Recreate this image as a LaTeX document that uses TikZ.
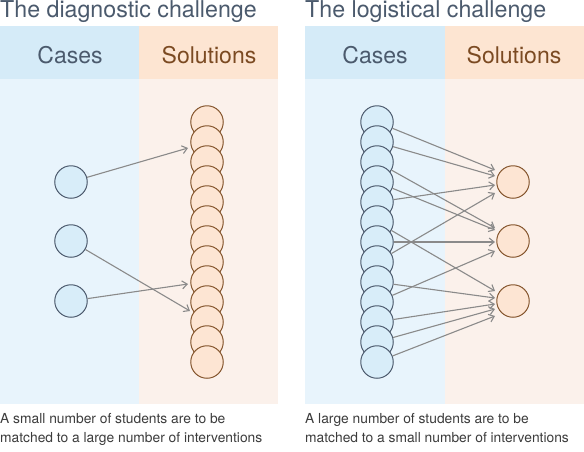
\documentclass[tikz,border=0pt]{standalone}
\usepackage{fontspec}
\setmainfont{TeX Gyre Heros}
\usetikzlibrary{arrows.meta,calc}
\definecolor{headblue}{HTML}{D5EBF8}
\definecolor{bodyblue}{HTML}{E8F4FC}
\definecolor{headpeach}{HTML}{FDE5D2}
\definecolor{bodypeach}{HTML}{FBF1EB}
\definecolor{casefill}{HTML}{D8EDF9}
\definecolor{caseline}{HTML}{4D5B6E}
\definecolor{solfill}{HTML}{FDE5D3}
\definecolor{solline}{HTML}{85562E}
\definecolor{linkgray}{HTML}{8A8A8A}
\definecolor{titlecol}{HTML}{4B5A6D}
\definecolor{solcol}{HTML}{7B4A22}
\definecolor{captcol}{HTML}{3C3C3C}
\begin{document}
\begin{tikzpicture}[x=1pt,y=-1pt,
  case/.style={circle,draw=caseline,fill=casefill,line width=1pt,minimum size=32.5pt,inner sep=0pt},
  sol/.style={circle,draw=solline,fill=solfill,line width=1pt,minimum size=32.5pt,inner sep=0pt},
  link/.style={draw=linkgray,line width=1.1pt,-{Straight Barb[length=5pt,width=8pt]}},
  ttl/.style={anchor=base west,inner sep=0pt,font=\fontsize{23.2}{27}\selectfont,text=titlecol},
  hdr/.style={anchor=base,inner sep=0pt,font=\fontsize{23}{27}\selectfont},
  capt/.style={anchor=base west,inner sep=0pt,font=\fontsize{13.8}{19}\selectfont,text=captcol,align=left}]
\useasboundingbox (0,0) rectangle (584,451);
\fill[white] (0,0) rectangle (584,451);
% panels
\fill[headblue] (0,26) rectangle (139,79);
\fill[headpeach] (139,26) rectangle (278,79);
\fill[bodyblue] (0,79) rectangle (139,404);
\fill[bodypeach] (139,79) rectangle (278,404);
\fill[headblue] (305,26) rectangle (445,79);
\fill[headpeach] (445,26) rectangle (584,79);
\fill[bodyblue] (305,79) rectangle (445,404);
\fill[bodypeach] (445,79) rectangle (584,404);
% titles
\node[ttl] (t1) at (0,17.5) {The diagnostic challenge};
\node[ttl] (t2) at (305,17.5) {The logistical challenge};
\node[hdr,text=titlecol] (h1) at (70,63) {Cases};
\node[hdr,text=solcol] (h2) at (209,63) {Solutions};
\node[hdr,text=titlecol] (h3) at (375,63) {Cases};
\node[hdr,text=solcol] (h4) at (514,63) {Solutions};
% left panel
\node[case] (ca1) at (71,182) {};
\node[case] (ca2) at (71,241) {};
\node[case] (ca3) at (71,301) {};
\foreach \i in {1,...,13} \node[sol] (sb\i) at (207,{122+20*(\i-1)}) {};
\draw[link] (ca1) -- ($(sb2)+(-19,6)$);
\draw[link] (ca2) -- ($(sb10)+(-17,9)$);
\draw[link] (ca3) -- ($(sb9)+(-19,2)$);
% right panel
\foreach \i in {1,...,13} \node[case] (c\i) at (377,{122+20*(\i-1)}) {};
\node[sol] (s1) at (513,182) {};
\node[sol] (s2) at (513,241) {};
\node[sol] (s3) at (513,301) {};
\draw[link] (c1) -- ($(s1)+(-18,-12)$);
\draw[link] (c2) -- ($(s1)+(-18,-6)$);
\draw[link] (c3) -- ($(s2)+(-18,-13)$);
\draw[link] (c4) -- ($(s2)+(-18,-11)$);
\draw[link] (c5) -- ($(s1)+(-18,3)$);
\draw[link] (c6) -- ($(s3)+(-18,-10)$);
\draw[link] (c7) -- ($(s2)+(-18,1)$);
\draw[link] (c8) -- ($(s1)+(-18,11)$);
\draw[link] (c9) -- ($(s3)+(-18,-3)$);
\draw[link] (c10) -- ($(s2)+(-18,10)$);
\draw[link] (c11) -- ($(s3)+(-18,3)$);
\draw[link] (c12) -- ($(s3)+(-18,8)$);
\draw[link] (c13) -- ($(s3)+(-18,15)$);
% captions
\node[capt] (cap1) at (0,423) {A small number of students are to be};
\node[capt] (cap2) at (0,442) {matched to a large number of interventions};
\node[capt] (cap3) at (305,423) {A large number of students are to be};
\node[capt] (cap4) at (305,442) {matched to a small number of interventions};
\end{tikzpicture}
\end{document}
